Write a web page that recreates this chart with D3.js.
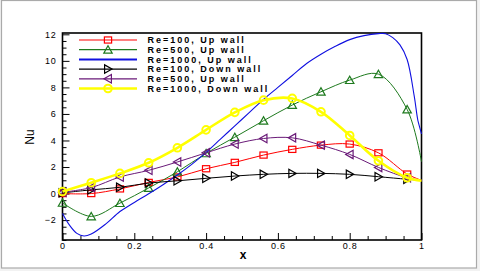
<!DOCTYPE html>
<html><head><meta charset="utf-8">
<script src="https://cdn.jsdelivr.net/npm/d3@7"></script>
<style>html,body{margin:0;padding:0;background:#f2f2f2;} svg{display:block}</style>
</head><body>
<svg id="c" width="480" height="271"></svg>
<script>
// ---- data ----
const xs = [0, 0.08, 0.16, 0.24, 0.32, 0.40, 0.48, 0.56, 0.64, 0.72, 0.80, 0.88, 0.96, 1.0];
const re100Up   = [0.0, 0.0, 0.35, 0.84, 1.25, 1.87, 2.35, 2.9, 3.33, 3.65, 3.73, 3.07, 1.47, 1.0];
const re500Up   = [-0.7, -1.72, -0.72, 0.42, 1.64, 3.03, 4.25, 5.49, 6.67, 7.67, 8.55, 9.0, 6.34, 2.4];
const re100Down = [0.05, 0.28, 0.47, 0.79, 0.96, 1.15, 1.32, 1.45, 1.52, 1.52, 1.45, 1.27, 1.08, 1.0];
const re500Down = [0.1, 0.45, 1.25, 1.75, 2.38, 3.07, 3.73, 4.15, 4.2, 3.65, 2.95, 1.97, 1.19, 1.0];
const re1000Down= [0.15, 0.82, 1.52, 2.32, 3.45, 4.8, 6.12, 7.04, 7.17, 6.16, 4.38, 2.47, 1.19, 0.97];
const xsBlue = [0, 0.02, 0.04, 0.06, 0.08, 0.12, 0.16, 0.20, 0.24, 0.28, 0.32, 0.36, 0.40, 0.44, 0.48, 0.52, 0.56, 0.60, 0.64, 0.68, 0.72, 0.76, 0.80, 0.84, 0.88, 0.90, 0.92, 0.94, 0.96, 0.98, 0.99, 1.0];
const re1000Up = [-1.5, -2.4, -3.0, -3.2, -3.05, -2.3, -1.35, -0.67, -0.02, 0.67, 1.4, 2.2, 3.1, 4.1, 5.1, 6.1, 7.1, 8.0, 8.9, 9.8, 10.5, 11.1, 11.6, 11.9, 12.05, 12.05, 11.75, 11.2, 10.1, 7.3, 5.5, 4.5];
const legendLabels = ["Re=100, Up wall", "Re=500, Up wall", "Re=1000, Up wall", "Re=100, Down wall", "Re=500, Up wall", "Re=1000, Down wall"];
const xMajor = [0, 0.2, 0.4, 0.6, 0.8, 1];
const yMajor = [-2, 0, 2, 4, 6, 8, 10, 12];

// ---- setup ----
const svg = d3.select("#c");
svg.append("rect").attr("x", 1.5).attr("y", 0.5).attr("width", 475).attr("height", 267.5)
  .attr("fill", "#fff").attr("stroke", "#aaa").attr("stroke-width", 1.2);

const x = d3.scaleLinear().domain([0, 1]).range([62.5, 421.5]);
const y = d3.scaleLinear().domain([-3.5, 12.1]).range([240, 33]);

const font = "'Liberation Sans', Arial, sans-serif";

// minor ticks
const xMinor = d3.range(0, 1.0001, 0.05).filter(v => !xMajor.some(m => Math.abs(m - v) < 1e-6));
const yMinor = d3.range(-3.5, 12.0001, 0.5).filter(v => !yMajor.some(m => Math.abs(m - v) < 1e-6));

const gx = svg.append("g").attr("transform", "translate(0,240)")
  .call(d3.axisBottom(x).tickValues(xMajor).tickSize(-7).tickPadding(3).tickFormat(d3.format("~g")));
const gxm = svg.append("g").attr("transform", "translate(0,240)")
  .call(d3.axisBottom(x).tickValues(xMinor).tickSize(-4).tickFormat(""));
const gy = svg.append("g").attr("transform", "translate(62.5,0)")
  .call(d3.axisLeft(y).tickValues(yMajor).tickSize(-7).tickPadding(6).tickFormat(d3.format("~g")));
const gym = svg.append("g").attr("transform", "translate(62.5,0)")
  .call(d3.axisLeft(y).tickValues(yMinor).tickSize(-4).tickFormat(""));
[gx, gxm, gy, gym].forEach(g => {
  g.select(".domain").remove();
  g.selectAll("line").attr("stroke", "#000").attr("stroke-width", 1);
  g.selectAll("text").attr("font-family", font).attr("font-size", 9).attr("fill", "#000")
    .style("letter-spacing", "0.8px");
});

// frame
svg.append("rect").attr("x", x(0)).attr("y", y(12.1)).attr("width", x(1) - x(0)).attr("height", y(-3.5) - y(12.1))
  .attr("fill", "none").attr("stroke", "#000").attr("stroke-width", 1.6);

// axis titles
svg.append("text").attr("transform", "translate(33.5,137) rotate(-90)").attr("text-anchor", "middle")
  .attr("font-family", font).attr("font-size", 12).text("Nu");
svg.append("text").attr("x", 243).attr("y", 258.5).attr("text-anchor", "middle")
  .attr("font-family", font).attr("font-size", 12).attr("font-weight", "bold").text("x");

// ---- series ----
const series = [
  { vals: re100Up,   xv: xs, color: "#ff0000", width: 1, marker: "square" },
  { vals: re500Up,   xv: xs, color: "#1e7a1e", width: 1, marker: "up" },
  { vals: re1000Up,  xv: xsBlue, color: "#1010e0", width: 1.1, marker: null },
  { vals: re100Down, xv: xs, color: "#000000", width: 1, marker: "right" },
  { vals: re500Down, xv: xs, color: "#6a1a78", width: 1, marker: "left" },
  { vals: re1000Down,xv: xs, color: "#ffff00", width: 2.6, marker: "circle" }
];

function drawMarker(g, type, cx, cy, color) {
  const s = 3.6;
  if (type === "square") {
    g.append("rect").attr("x", cx - s).attr("y", cy - s * 0.85).attr("width", 2 * s).attr("height", 1.7 * s)
      .attr("fill", "none").attr("stroke", color).attr("stroke-width", 1.2);
  } else if (type === "circle") {
    g.append("circle").attr("cx", cx).attr("cy", cy).attr("r", 3.8)
      .attr("fill", "none").attr("stroke", color).attr("stroke-width", 2);
  } else {
    let pts;
    const a = 4.2, b = 3.4;
    if (type === "up") pts = [[cx - a, cy + b], [cx + a, cy + b], [cx, cy - b - 0.6]];
    else if (type === "right") pts = [[cx - b, cy - a], [cx - b, cy + a], [cx + b + 0.6, cy]];
    else pts = [[cx + b, cy - a], [cx + b, cy + a], [cx - b - 0.6, cy]];
    g.append("polygon").attr("points", pts.map(p => p.join(",")).join(" "))
      .attr("fill", "none").attr("stroke", color).attr("stroke-width", 1.2);
  }
}

const line = d3.line().curve(d3.curveCatmullRom.alpha(0.5));
series.forEach(s => {
  const g = svg.append("g");
  const pts = s.vals.map((v, i) => [x(s.xv[i]), y(v)]);
  g.append("path").attr("d", line(pts)).attr("fill", "none").attr("stroke", s.color)
    .attr("stroke-width", s.width);
  if (s.marker) {
    s.vals.forEach((v, i) => {
      if (s.xv[i] < 0.999) drawMarker(g, s.marker, x(s.xv[i]), y(v), s.color);
    });
  }
});

// ---- legend ----
const lg = svg.append("g");
series.forEach((s, i) => {
  const ly = 40 + i * 9.7;
  lg.append("line").attr("x1", 79).attr("x2", 137).attr("y1", ly).attr("y2", ly)
    .attr("stroke", s.color).attr("stroke-width", s.marker === "circle" ? 2.6 : (s.marker ? 1.2 : 2));
  if (s.marker) drawMarker(lg, s.marker, 108, ly, s.color);
  lg.append("text").attr("x", 147.5).attr("y", ly + 3.2).attr("font-family", font).attr("font-size", 9)
    .attr("font-weight", "bold").style("letter-spacing", "2px").text(legendLabels[i]);
});
</script>
</body></html>
